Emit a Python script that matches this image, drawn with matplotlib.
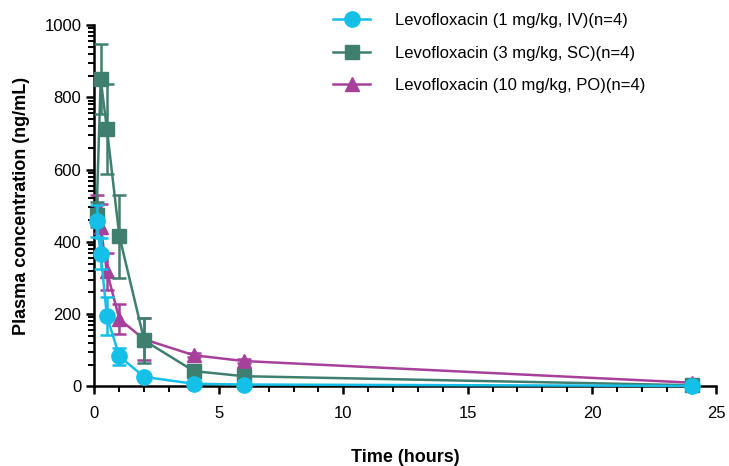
import numpy as np
import matplotlib
matplotlib.use('Agg')
import matplotlib.pyplot as plt
from matplotlib.lines import Line2D
from matplotlib.ticker import FixedLocator, MultipleLocator

plt.rcParams['font.family'] = ['Liberation Sans', 'DejaVu Sans']

time_h = [0.083, 0.25, 0.5, 1, 2, 4, 6, 24]

iv_mean = [457, 367, 194, 83, 26, 7, 5, 1]
iv_sd = [44, 43, 53, 23, 5, 2, 1, 0.5]

sc_mean = [475, 850, 713, 416, 127, 42, 28, 3]
sc_sd = [35, 97, 124, 115, 62, 8, 5, 1]

po_mean = [490, 440, 318, 186, 130, 86, 70, 10]
po_sd = [40, 65, 50, 42, 58, 6, 5, 2]

labels = ['Levofloxacin (1 mg/kg, IV)(n=4)',
          'Levofloxacin (3 mg/kg, SC)(n=4)',
          'Levofloxacin (10 mg/kg, PO)(n=4)']

c_iv = '#14BFE8'
c_sc = '#3F7F6F'
c_po = '#A6409A'

fig = plt.figure(figsize=(7.29, 4.66), dpi=100)
ax = fig.add_axes([0.1296, 0.171, 0.8532, 0.775])

common = dict(linewidth=1.8, elinewidth=1.8, capsize=5, capthick=1.8, clip_on=False)
ax.errorbar(time_h, po_mean, yerr=po_sd, color=c_po, marker='^', markersize=10,
            zorder=3, **common)
ax.errorbar(time_h, sc_mean, yerr=sc_sd, color=c_sc, marker='s', markersize=10,
            zorder=4, **common)
ax.errorbar(time_h, iv_mean, yerr=iv_sd, color=c_iv, marker='o', markersize=11,
            zorder=5, **common)

ax.set_xlim(0, 25)
ax.set_ylim(0, 1000)
ax.xaxis.set_major_locator(MultipleLocator(5))
ax.xaxis.set_minor_locator(MultipleLocator(1))
ax.yaxis.set_major_locator(MultipleLocator(200))
minor_y = [m + 200 * np.log10(k) for m in range(0, 1000, 200) for k in range(2, 10)]
ax.yaxis.set_minor_locator(FixedLocator(minor_y))

for s in ['top', 'right']:
    ax.spines[s].set_visible(False)
for s in ['left', 'bottom']:
    ax.spines[s].set_linewidth(1.8)
ax.tick_params(which='major', length=6, width=1.8, labelsize=12, colors='black')
ax.tick_params(axis='x', which='major', pad=8)
ax.tick_params(which='minor', length=4, width=1.4)

ax.set_xlabel('Time (hours)', fontsize=13, fontweight='bold', labelpad=20)
ax.set_ylabel('Plasma concentration (ng/mL)', fontsize=13, fontweight='bold', labelpad=10)

handles = [Line2D([], [], color=c_iv, marker='o', markersize=11, linewidth=1.8),
           Line2D([], [], color=c_sc, marker='s', markersize=10, linewidth=1.8),
           Line2D([], [], color=c_po, marker='^', markersize=10, linewidth=1.8)]
ax.legend(handles, labels, loc='upper left', bbox_to_anchor=(0.36, 1.075),
          frameon=False, fontsize=12, handlelength=2.2, labelspacing=1.05,
          handletextpad=1.5)

fig.savefig('out.png', dpi=100)
